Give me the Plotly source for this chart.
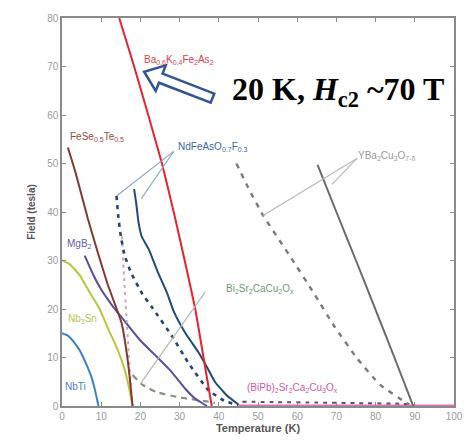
import plotly.graph_objects as go

# ---- upper critical field / irreversibility field data (T in K, H in tesla) ----
ba122_T = [14.6, 18.4, 22.0, 25.5, 28.5, 31.3, 34.0, 36.1, 38.2]
ba122_H = [80, 70, 60, 50, 40, 30, 20, 10, 0]

fesete_T = [1.5, 3.5, 6.6, 9.0, 11.6, 13.5, 15.2, 16.5, 17.2, 18.0]
fesete_H = [53.3, 48, 38.6, 32, 25.2, 21, 17.1, 11, 6.4, 0]

fesete_irr_T = [15.3, 15.8, 16.4, 17.0, 17.6, 18.0]
fesete_irr_H = [35, 27, 19, 11, 4, 0]

nd_T = [18.4, 18.9, 19.5, 20.3, 22.2, 24.5, 26.8, 28.5, 31.5, 34.8, 37.0, 39.0, 42.0, 45.0]
nd_H = [44.7, 42, 38, 35, 32.2, 27.5, 23.3, 19.5, 15, 11.1, 8, 5, 2.2, 0.3]

nd_irr_T = [13.9, 14.3, 15.0, 16.0, 17.6, 20.5, 23.0, 28.0, 32.3, 37.4, 41.6, 45.0]
nd_irr_H = [43.3, 39.5, 35, 31, 27.5, 23.1, 20.3, 14.5, 8.8, 3.2, 1.0, 0.2]

ybco_T = [65.2, 70.0, 75.0, 80.0, 84.8, 89.6]
ybco_H = [49.7, 40, 30, 19.8, 10, 0]

ybco_irr_T = [44.5, 47.5, 51.3, 58.4, 64.3, 69.4, 75.3, 81.1, 87.0, 88.6]
ybco_irr_H = [50, 45, 39.3, 30.6, 23.2, 16.5, 9.8, 4.4, 1.1, 0.3]

mgb2_T = [5.8, 8.0, 10.0, 13.0, 16.0, 20.0, 24.0, 28.0, 31.5, 34.0, 37.0]
mgb2_H = [31, 27, 24, 20.5, 17.5, 13.5, 10.3, 7, 3.5, 1.5, 0]

nb3sn_T = [0, 2.0, 4.5, 7.0, 9.6, 12.0, 14.0, 16.0, 17.3, 18.0]
nb3sn_H = [30, 29.2, 27, 23.5, 20, 15.5, 12, 7.5, 3, 0]

nbti_T = [0, 1.5, 3.0, 4.5, 6.0, 7.5, 8.5, 9.3]
nbti_H = [15, 14.5, 13.2, 11.5, 9, 6, 3, 0]

bi2212_T = [18.0, 20.5, 24.0, 29.8, 33.0, 36.6, 39.0]
bi2212_H = [6.4, 4.4, 2.9, 1.8, 1.4, 1.0, 0.6]

bi2223_T = [46, 55, 65, 75, 85, 88]
bi2223_H = [0.9, 0.8, 0.7, 0.6, 0.5, 0.4]

bi2223_base_T = [45, 100]
bi2223_base_H = [0.1, 0.1]

x_ticks = [0, 10, 20, 30, 40, 50, 60, 70, 80, 90, 100]
y_ticks = [0, 10, 20, 30, 40, 50, 60, 70, 80]

# plot-area geometry (used to build the hollow arrow in screen units)
W, H = 475, 445
ML, MR, MT, MB = 62, 17, 15, 33
X0, X1, Y0, Y1 = 0, 100, 0, 80
PW, PH = W - ML - MR, H - MT - MB


def to_data(px, py):
    return (X0 + (px - ML) / PW * (X1 - X0),
            Y0 + (MT + PH - py) / PH * (Y1 - Y0))


fig = go.Figure()


def curve(T, Hf, color, width=2.0, dash="solid"):
    fig.add_trace(go.Scatter(x=T, y=Hf, mode="lines",
                             line=dict(color=color, width=width, dash=dash, shape="spline", smoothing=0.4),
                             hoverinfo="skip", showlegend=False))


curve(bi2223_base_T, bi2223_base_H, "#e070b8", 2.0)
curve(bi2223_T, bi2223_H, "#6a4a6a", 2.0, "4px,5px")
curve(bi2212_T, bi2212_H, "#7f927a", 2.2, "6px,5px")
curve(ybco_irr_T, ybco_irr_H, "#7a7a7a", 2.4, "5px,6px")
curve(ybco_T, ybco_H, "#6b6b6b", 2.0)
curve(nbti_T, nbti_H, "#3d7fc4", 2.0)
curve(nb3sn_T, nb3sn_H, "#b9c63c", 2.0)
curve(mgb2_T, mgb2_H, "#5a4d9e", 2.0)
curve(fesete_irr_T, fesete_irr_H, "#d6a3a8", 2.0, "3px,4px")
curve(fesete_T, fesete_H, "#7f3b30", 2.0)
curve(nd_irr_T, nd_irr_H, "#27446e", 2.6, "4px,5px")
curve(nd_T, nd_H, "#1f4b78", 2.0)
curve(ba122_T, ba122_H, "#e8222e", 2.0)

# leader lines from labels to curves
leaders = [
    ((28.5, 52.5), (nd_irr_T[0], nd_irr_H[0]), "#8fa4bf"),
    ((28.5, 52.5), (20.2, 42.7), "#8fb0d0"),
    ((75.3, 51.1), (51.3, 39.3), "#b8b8b8"),
    ((75.3, 51.1), (68.9, 45.7), "#b8b8b8"),
    ((36.6, 23.6), (20.2, 4.8), "#a8c0b0"),
]
for (xa, ya), (xb, yb), c in leaders:
    fig.add_shape(type="line", x0=xa, y0=ya, x1=xb, y1=yb, xref="x", yref="y",
                  line=dict(color=c, width=1.2))

# curve labels
labels = [
    (29.8, 71.3, "Ba<sub>0.6</sub>K<sub>0.4</sub>Fe<sub>2</sub>As<sub>2</sub>", "#d8404a"),
    (8.8, 55.4, "FeSe<sub>0.5</sub>Te<sub>0.5</sub>", "#9a4a40"),
    (38.6, 53.4, "NdFeAsO<sub>0.7</sub>F<sub>0.3</sub>", "#3d6a9c"),
    (82.8, 51.6, "YBa<sub>2</sub>Cu<sub>3</sub>O<sub>7-δ</sub>", "#9a9a9a"),
    (4.5, 33.4, "MgB<sub>2</sub>", "#6a5aa8"),
    (5.3, 17.9, "Nb<sub>3</sub>Sn", "#b8c44a"),
    (3.5, 4.0, "NbTi", "#4a80c0"),
    (50.5, 24.2, "Bi<sub>2</sub>Sr<sub>2</sub>CaCu<sub>2</sub>O<sub>x</sub>", "#6f9a6f"),
    (58.8, 3.8, "(BiPb)<sub>2</sub>Sr<sub>2</sub>Ca<sub>2</sub>Cu<sub>3</sub>O<sub>x</sub>", "#d058a8"),
]
for x, y, t, c in labels:
    fig.add_annotation(x=x, y=y, text=t, showarrow=False, xref="x", yref="y",
                       font=dict(family="Liberation Sans", size=10, color=c))

# hollow block arrow pointing at the Ba122 curve
tip = (145.0, 70.0)
tail = (214.0, 97.0)
dx, dy = tail[0] - tip[0], tail[1] - tip[1]
L = (dx * dx + dy * dy) ** 0.5
ux, uy = dx / L, dy / L
nx, ny = -uy, ux
head_len, head_hw, shaft_hw = 18.0, 14.0, 5.0
bx, by = tip[0] + ux * head_len, tip[1] + uy * head_len
pts_px = [
    tip,
    (bx + nx * head_hw, by + ny * head_hw),
    (bx + nx * shaft_hw, by + ny * shaft_hw),
    (tail[0] + nx * shaft_hw, tail[1] + ny * shaft_hw),
    (tail[0] - nx * shaft_hw, tail[1] - ny * shaft_hw),
    (bx - nx * shaft_hw, by - ny * shaft_hw),
    (bx - nx * head_hw, by - ny * head_hw),
]
pts = [to_data(px, py) for px, py in pts_px]
path = "M " + " L ".join(f"{x:.4f},{y:.4f}" for x, y in pts) + " Z"
fig.add_shape(type="path", path=path, xref="x", yref="y",
              fillcolor="white", line=dict(color="#2f5597", width=2.5))

ax, ay = to_data(232, 90)
fig.add_annotation(x=ax, y=ay, xref="x", yref="y", xanchor="left", yanchor="middle",
                   text="<b>20 K, <i>H</i><sub>c2</sub> ~70 T</b>", showarrow=False,
                   font=dict(family="Liberation Serif", size=32, color="black"))

axis_common = dict(showgrid=False, zeroline=False, showline=True, linecolor="#8a8a8a",
                   linewidth=1.5, mirror="ticks", ticks="inside", ticklen=4,
                   tickcolor="#8a8a8a", tickwidth=1,
                   tickfont=dict(family="Liberation Sans", size=10, color="#9a9a9a"))

fig.update_xaxes(range=[X0, X1], tickvals=x_ticks, ticktext=[str(v) for v in x_ticks],
                 title=dict(text="<b>Temperature (K)</b>", standoff=4,
                            font=dict(family="Liberation Sans", size=11, color="#555")),
                 **axis_common)
fig.update_yaxes(range=[Y0, Y1], tickvals=y_ticks, ticktext=[str(v) for v in y_ticks],
                 title=dict(text="<b>Field (tesla)</b>", standoff=10,
                            font=dict(family="Liberation Sans", size=10, color="#555")),
                 **axis_common)

fig.update_layout(width=W, height=H, margin=dict(l=ML, r=MR, t=MT, b=MB),
                  paper_bgcolor="white", plot_bgcolor="white", showlegend=False)

fig.write_html("out.html")
